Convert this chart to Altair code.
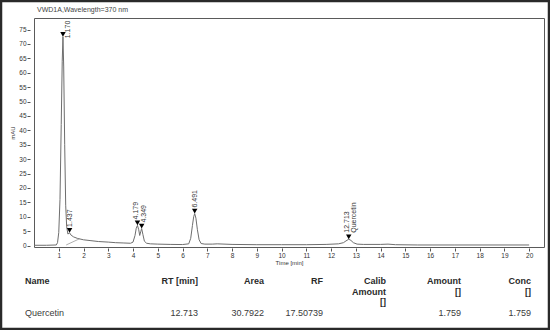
import altair as alt
import pandas as pd

# ---------------- data ----------------
time_min = [0.0, 0.5, 0.9, 0.95, 1.0, 1.05, 1.1, 1.14, 1.17, 1.2, 1.24, 1.28, 1.32, 1.37,
            1.437, 1.5, 1.6, 1.75, 2.0, 2.3, 2.6, 3.0, 3.3, 3.6, 3.9, 4.0, 4.08, 4.13,
            4.179, 4.23, 4.27, 4.31, 4.349, 4.4, 4.46, 4.55, 4.7, 5.0, 5.5, 6.0, 6.25,
            6.33, 6.4, 6.45, 6.491, 6.54, 6.6, 6.67, 6.75, 6.9, 7.2, 7.4, 8.0, 9.0,
            10.0, 11.0, 11.8, 12.3, 12.5, 12.6, 12.713, 12.8, 12.9, 13.05, 13.3, 14.0,
            14.3, 14.6, 15.5, 17.0, 18.5, 20.0]
signal_mau = [0.1, 0.1, 0.2, 1.0, 4.5, 16, 42, 64, 72.5, 62, 35, 14, 6.5, 4.0,
              4.4, 3.6, 3.0, 2.5, 2.0, 1.7, 1.4, 1.2, 1.0, 0.9, 0.8, 1.2, 3.5, 6.0,
              7.0, 5.5, 3.5, 4.8, 5.9, 3.8, 1.5, 0.8, 0.6, 0.5, 0.4, 0.35, 0.6,
              2.5, 7.0, 10.0, 11.1, 9.5, 5.5, 2.0, 0.7, 0.5, 0.5, 0.6, 0.4, 0.3,
              0.3, 0.3, 0.4, 0.6, 1.0, 1.6, 2.2, 1.8, 1.0, 0.5, 0.4, 0.4,
              0.5, 0.3, 0.2, 0.2, 0.2, 0.2]

baseline_time = [1.30, 1.85]
baseline_mau = [0.2, 2.4]

peak_rt = [1.170, 1.437, 4.179, 4.349, 6.491, 12.713]
peak_height = [72.5, 4.4, 7.0, 5.9, 11.1, 2.2]
peak_label = ["1.170", "1.437", "4.179", "4.349", "6.491", "12.713"]
peak_name = ["", "", "", "", "", "Quercetin"]

x_ticks = list(range(1, 21))
y_ticks = list(range(0, 80, 5))

signal_title = "VWD1A,Wavelength=370 nm"

header_line1 = ["Name", "RT [min]", "Area", "RF", "Calib", "Amount", "Conc"]
header_line2 = ["", "", "", "", "Amount", "[]", "[]"]
header_line3 = ["", "", "", "", "[]", "", ""]
row_values = ["Quercetin", "12.713", "30.7922", "17.50739", "", "1.759", "1.759"]

# ---------------- layout ----------------
FONT = "Liberation Sans"
W, H = 510, 229
OX, OY = 34, 18          # plot origin on the page
col_x = [25, 198, 264, 323, 386, 461, 531]
col_align = ["left"] + ["right"] * 6
line_y = [281, 291.5, 301.7]
row_y = 313

trace_df = pd.DataFrame({"t": time_min, "v": signal_mau})
base_df = pd.DataFrame({"t": baseline_time, "v": baseline_mau})
peaks_df = pd.DataFrame({"rt": peak_rt, "h": peak_height,
                         "label": peak_label, "name": peak_name})

xscale = alt.Scale(domain=[0, 20.6], nice=False, zero=False)
yscale = alt.Scale(domain=[-0.5, 79], nice=False, zero=False)

x_axis = alt.Axis(values=x_ticks, title="Time [min]", domain=False, grid=False,
                  tickSize=3, offset=1, labelPadding=1, labelFontSize=6.5,
                  labelFont=FONT, labelColor="#333", tickColor="#555",
                  labelOverlap=False, labelBound=False,
                  titleFont=FONT, titleFontSize=6, titleFontWeight="normal",
                  titleColor="#333", titlePadding=1, labelFlush=False)
y_axis = alt.Axis(values=y_ticks, title="mAU", domain=False, grid=False,
                  tickSize=3, offset=4, labelPadding=1, labelFontSize=6.5,
                  labelFont=FONT, labelColor="#333", tickColor="#555",
                  labelOverlap=False, labelBound=False,
                  titleFont=FONT, titleFontSize=6, titleFontWeight="normal",
                  titleColor="#333", titlePadding=3)

X = lambda f: alt.X(f, scale=xscale, axis=x_axis)
Y = lambda f: alt.Y(f, scale=yscale, axis=y_axis)

trace = alt.Chart(trace_df).mark_line(color="#6e6e6e", strokeWidth=1).encode(
    x=X("t:Q"), y=Y("v:Q"))
base = alt.Chart(base_df).mark_line(color="#9a9a9a", strokeWidth=0.8).encode(
    x=X("t:Q"), y=Y("v:Q"))

markers = alt.Chart(peaks_df).mark_point(
    shape="triangle-down", filled=True, size=30, color="black", opacity=1,
    yOffset=-2.4).encode(x=X("rt:Q"), y=Y("h:Q"))

lab_kw = dict(angle=270, align="left", baseline="middle", fontSize=7,
              font=FONT, color="#333")


def peak_text(cond, dx, dy, field="label:N"):
    return alt.Chart(peaks_df).transform_filter(cond).mark_text(
        dx=dx, dy=dy, **lab_kw).encode(x=X("rt:Q"), y=Y("h:Q"), text=field)


label_layers = [
    peak_text("datum.rt < 1.3", -1.5, 5.5),
    peak_text("datum.rt > 1.3 && datum.rt < 2", 6, 0),
    peak_text("datum.rt > 4 && datum.rt < 4.25", 6, -1),
    peak_text("datum.rt > 4.25 && datum.rt < 5", 6, 2.5),
    peak_text("datum.rt > 6 && datum.rt < 7", 6, 0),
    peak_text("datum.rt > 12", 6.5, -1.5),
    peak_text("datum.rt > 12", 6.5, 5.5, "name:N"),
]

title_df = pd.DataFrame({"txt": [signal_title]})
title = alt.Chart(title_df).mark_text(align="left", baseline="middle", fontSize=7,
                                      font=FONT, color="#444").encode(
    text="txt:N", x=alt.value(37 - OX), y=alt.value(10 - OY))

frame = alt.Chart(title_df).mark_rect(filled=False, stroke="#2a2a2a",
                                      strokeWidth=2.5).encode(
    x=alt.value(1 - OX), x2=alt.value(549 - OX),
    y=alt.value(1 - OY), y2=alt.value(329 - OY))

layers = [trace, base, markers] + label_layers + [title, frame]

# table below the chart
table_lines = [(header_line1, line_y[0], "bold"),
               (header_line2, line_y[1], "bold"),
               (header_line3, line_y[2], "bold"),
               (row_values, row_y, "normal")]
for texts, yy, weight in table_lines:
    for i, txt in enumerate(texts):
        if not txt:
            continue
        d = pd.DataFrame({"txt": [txt]})
        layers.append(
            alt.Chart(d).mark_text(align=col_align[i], baseline="middle",
                                   fontSize=9, font=FONT, fontWeight=weight,
                                   color="#2a2a2a" if weight == "bold" else "#3a3a3a"
                                   ).encode(text="txt:N", x=alt.value(col_x[i] - OX),
                                            y=alt.value(yy - OY)))

chart = alt.layer(*layers).properties(
    width=W, height=H,
    padding={"left": OX, "top": OY, "right": 550 - OX - W, "bottom": 330 - OY - H},
    autosize=alt.AutoSizeParams(type="none"),
    background="white",
).configure_view(stroke="#5a5a5a", strokeWidth=1).configure_axis(
    labelOverlap=False)

chart.save("out.html", embed_options={"renderer": "svg", "actions": False})
